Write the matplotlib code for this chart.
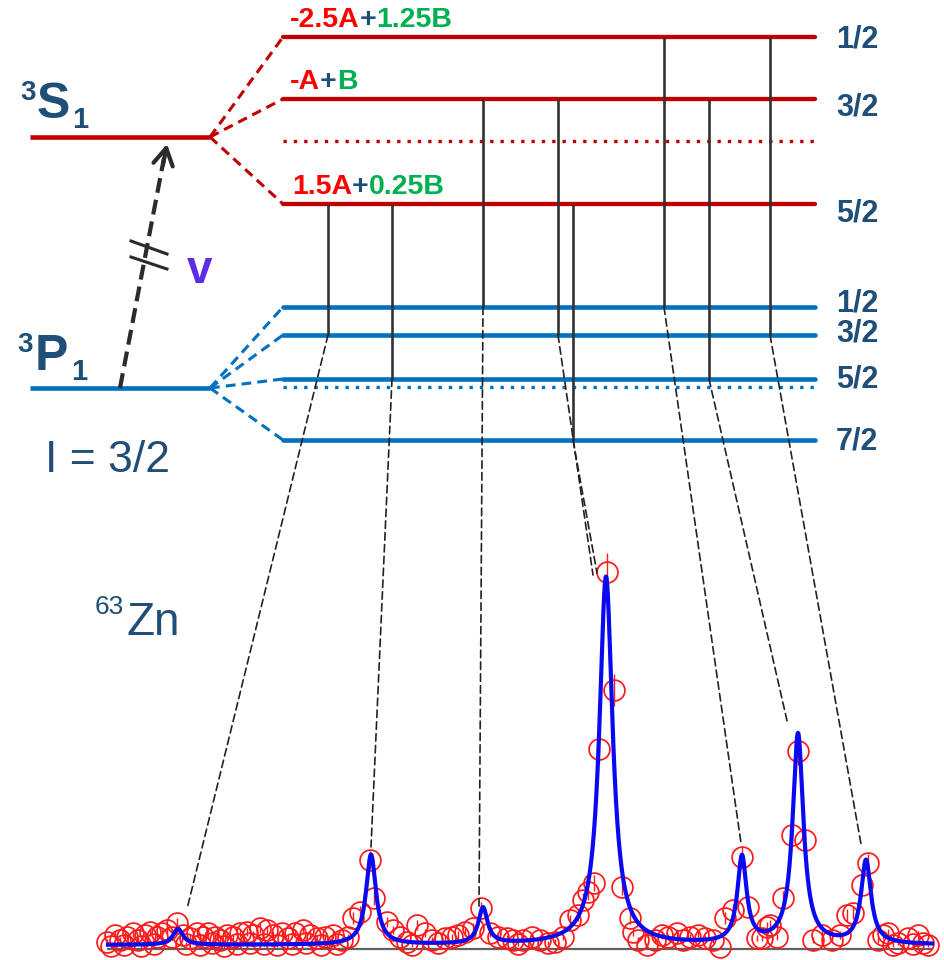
import numpy as np
import matplotlib
matplotlib.use("Agg")
import matplotlib.pyplot as plt
from matplotlib.patches import ConnectionPatch

plt.rcParams['font.family'] = ['Liberation Sans', 'DejaVu Sans']

RED = '#C00000'
BLUE = '#0070C0'
NAVY = '#1F4E79'
GREEN = '#00B050'
TXT_RED = '#FF0000'
DARK = '#2B2B2B'

# ---------------- level scheme ----------------
upper_F = ['1/2', '3/2', '5/2']
lower_F = ['1/2', '3/2', '5/2', '7/2']
upper_coeffs = [
    [('-2.5A', TXT_RED), ('+', NAVY), ('1.25B', GREEN)],
    [('-A', TXT_RED), ('+', NAVY), ('B', GREEN)],
    [('1.5A', TXT_RED), ('+', NAVY), ('0.25B', GREEN)],
]

# allowed transitions (upper F -> lower F)
trans_upper = ['5/2', '5/2', '3/2', '3/2', '5/2', '1/2', '3/2', '1/2']
trans_lower = ['3/2', '5/2', '1/2', '3/2', '7/2', '1/2', '5/2', '3/2']
trans_peak = [0, 1, 2, 3, 3, 4, 5, 6]

# ---------------- measured spectrum ----------------
channel = [107, 111, 115, 120, 124, 127, 133, 138, 141, 145, 150, 154, 157, 162,
           167, 172, 177, 183, 186, 190, 197, 200, 203, 208, 212, 215, 220, 224,
           227, 233, 237, 240, 247, 250, 253, 260, 264, 267, 273, 277, 282, 288,
           292, 295, 303, 306, 310, 317, 321, 325, 333, 337, 342, 348, 353, 360,
           370, 374, 387, 393, 400, 407, 412, 417, 425, 432, 438, 445, 452, 458,
           465, 473, 481, 490, 498, 507, 513, 518, 523, 532, 540, 548, 555, 563,
           570, 578, 583, 588, 594, 599, 607, 614, 622, 630, 633, 638, 647, 655,
           662, 668, 677, 683, 690, 698, 705, 713, 720, 725, 733, 742, 748, 757,
           762, 767, 770, 777, 783, 792, 798, 805, 813, 822, 832, 840, 847, 853,
           862, 868, 878, 883, 888, 893, 898, 908, 913, 918, 923, 928]
counts = [7, 3, 14, 9, 4, 12, 16, 9, 3, 14, 17, 5, 12, 16,
          19, 12, 26, 14, 5, 11, 16, 4, 12, 16, 6, 12, 9, 3,
          14, 12, 5, 16, 17, 6, 14, 21, 5, 19, 14, 4, 16, 11,
          5, 16, 19, 6, 14, 11, 4, 12, 14, 5, 9, 12, 31, 37,
          89, 51, 27, 19, 12, 7, 4, 24, 16, 9, 6, 11, 12, 14,
          17, 21, 41, 16, 12, 11, 9, 5, 9, 12, 9, 6, 7, 12,
          29, 34, 49, 57, 66, 200, 377, 259, 62, 31, 17, 9, 4, 9,
          14, 12, 16, 9, 12, 14, 11, 9, 2, 31, 39, 92, 42, 11,
          11, 22, 24, 12, 51, 114, 198, 109, 9, 14, 9, 14, 34, 36,
          64, 86, 9, 14, 16, 4, 6, 11, 5, 14, 6, 4]

# Lorentzian fit parameters
fit_background = 4
peak_center = [178, 371, 483, 606, 742, 798, 866]
peak_height = [16, 90, 36, 368, 86, 210, 83]
peak_hwhm = [6, 6, 5.5, 8, 5.5, 6.5, 6]

# ---------------- figure ----------------
W, H = 945, 960
fig = plt.figure(figsize=(W / 100, H / 100), dpi=100)
ax = fig.add_axes([0, 0, 1, 1])
ax.set_xlim(0, W)
ax.set_ylim(H, 0)
ax.axis('off')

# spectrum panel
spec = fig.add_axes([100 / W, (H - 949) / H, 840 / W, 409 / H])
spec.set_xlim(100, 940)
spec.set_ylim(0, 409)
spec.axis('off')
spec.patch.set_alpha(0)

# layout of the level scheme (diagram pixels)
main_x0, main_x1 = 30, 210
split_x0, split_x1 = 283, 815
S_y, P_y = 137, 388
upper_y = dict(zip(upper_F, [37, 99, 204]))
lower_y = dict(zip(lower_F, [307, 335, 379, 440]))
upper_label_y = [40, 107, 213]
lower_label_y = [304, 334, 379, 442]
coeff_pos = [(290, 20), (290, 82), (292, 187)]
trans_x = [328, 392, 483, 558, 573, 664, 709, 770]
link_end = [(187, 40), (371, 102), (479, 42), (593, 374), (597, 376),
            (741, 106), (788, 224), (861, 105)]

# fine-structure levels
ax.plot([main_x0, main_x1], [S_y, S_y], color=RED, lw=3.3, solid_capstyle='butt')
ax.plot([main_x0, main_x1], [P_y, P_y], color=BLUE, lw=3.3, solid_capstyle='butt')

# hyperfine levels
for F in upper_F:
    ax.plot([split_x0, split_x1], [upper_y[F]] * 2, color=RED, lw=3.1,
            solid_capstyle='round')
    ax.plot([main_x1, split_x0], [S_y, upper_y[F]], color=RED, lw=2.2,
            ls=(0, (3.2, 2.0)))
for F in lower_F:
    ax.plot([split_x0, split_x1], [lower_y[F]] * 2, color=BLUE, lw=3.3,
            solid_capstyle='round')
    ax.plot([main_x1, split_x0], [P_y, lower_y[F]], color=BLUE, lw=2.2,
            ls=(0, (3.2, 2.0)))

# centroids
ax.plot([split_x0, split_x1], [141, 141], color=RED, lw=2.4, ls=(0, (1, 2.1)))
ax.plot([split_x0, split_x1], [387, 387], color=BLUE, lw=2.4, ls=(0, (1, 2.1)))

# F labels
for F, y in zip(upper_F, upper_label_y):
    ax.text(836, y, F, color=NAVY, fontsize=22, fontweight='bold',
            ha='left', va='center')
for F, y in zip(lower_F, lower_label_y):
    ax.text(836, y, F, color=NAVY, fontsize=22, fontweight='bold',
            ha='left', va='center')


def rainbow(x, y, parts):
    t = ax.text(x, y, parts[0][0], color=parts[0][1], fontsize=20.5,
                fontweight='bold', ha='left', va='center')
    for s, c in parts[1:]:
        t = ax.annotate(s, xy=(1, 0), xycoords=t, color=c, fontsize=20.5,
                        fontweight='bold', ha='left', va='bottom')


for (x, y), parts in zip(coeff_pos, upper_coeffs):
    rainbow(x, y, parts)

# term symbols: (superscript x, letter x, subscript x, letter baseline)
for sx, lx, bx, yb, letter in [(20, 37, 72, 118, 'S'), (17, 35, 71, 370, 'P')]:
    ax.text(sx, yb - 18, '3', color=NAVY, fontsize=20,
            fontweight='bold', ha='left', va='baseline')
    ax.text(lx, yb, letter, color=NAVY, fontsize=36,
            fontweight='bold', ha='left', va='baseline')
    ax.text(bx, yb + 10, '1', color=NAVY, fontsize=21,
            fontweight='bold', ha='left', va='baseline')

ax.text(45, 472, 'I = 3/2', color=NAVY, fontsize=32, ha='left', va='baseline')
ax.text(95, 614, '63', color=NAVY, fontsize=19, ha='left', va='baseline')
ax.text(126, 635, 'Zn', color=NAVY, fontsize=33, ha='left', va='baseline')

# laser excitation arrow
ax.plot([120, 164], [P_y, 158], color=DARK, lw=3.0, ls=(0, (3.6, 1.7)),
        solid_capstyle='butt')
ax.annotate('', xy=(167, 144), xytext=(163, 165),
            arrowprops=dict(arrowstyle='->,head_length=0.55,head_width=0.32',
                            color=DARK, lw=3.0, mutation_scale=22,
                            shrinkA=0, shrinkB=0))
ax.plot([131, 167], [241, 254], color=DARK, lw=2.2)
ax.plot([131, 167], [257, 269], color=DARK, lw=2.2)
ax.text(187, 283, 'v', color='#5A2EE8', fontsize=33, fontweight='bold',
        ha='left', va='baseline')

# transitions and links to the spectrum
for x, Fu, Fl, (ex, ey) in zip(trans_x, trans_upper, trans_lower, link_end):
    ax.plot([x, x], [upper_y[Fu], lower_y[Fl]], color='#333333', lw=1.9,
            solid_capstyle='butt')
    con = ConnectionPatch(xyA=(x, lower_y[Fl]), coordsA=ax.transData,
                          xyB=(ex, ey), coordsB=spec.transData,
                          color='#222222', lw=1.2, ls=(0, (4.5, 2.6)))
    fig.add_artist(con)

# spectrum
spec.plot([108, 932], [0, 0], color='#606060', lw=1.6, clip_on=False, zorder=1)
c = np.asarray(counts, dtype=float)
spec.errorbar(channel, counts, yerr=np.sqrt(c), fmt='o', ms=15, mfc='none',
              mec='#FF1A1A', mew=1.25, ecolor='#FF1A1A', elinewidth=1.0,
              capsize=0, clip_on=False, zorder=2)
xf = np.linspace(108, 932, 3000)
fit = np.full_like(xf, fit_background, dtype=float)
for x0, h, g in zip(peak_center, peak_height, peak_hwhm):
    fit += h / (1 + ((xf - x0) / g) ** 2)
spec.plot(xf, fit, color='#0A0AF0', lw=3.0, zorder=3, clip_on=False)

fig.savefig('out.png', dpi=100)
